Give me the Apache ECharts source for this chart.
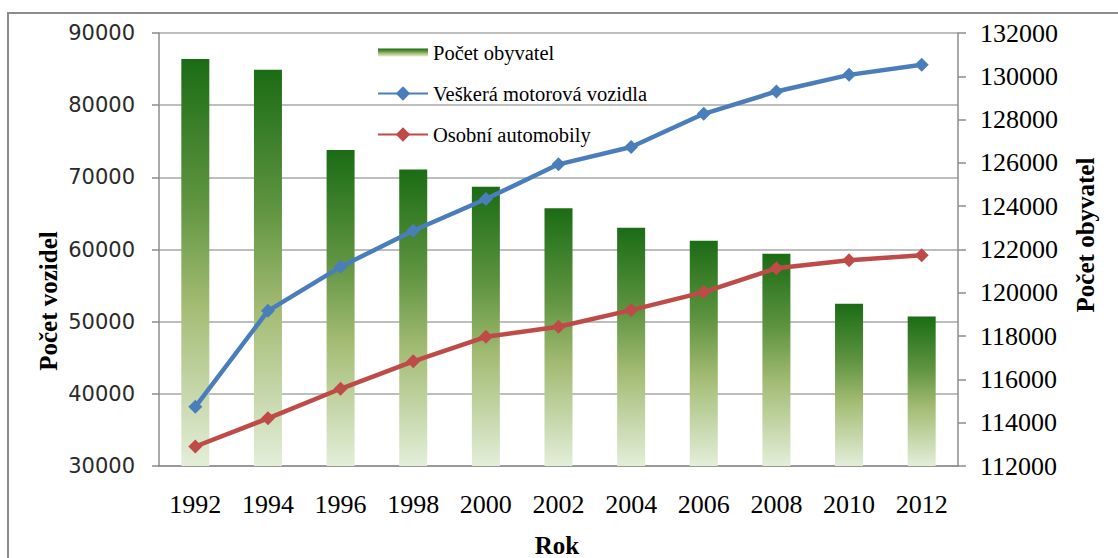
<!DOCTYPE html>
<html>
<head>
<meta charset="utf-8">
<script src="https://cdn.jsdelivr.net/npm/echarts@6/dist/echarts.min.js"></script>
<style>
	html, body { margin: 0; padding: 0; background: #fff; }
	#vozidla-chart { width: 1118px; height: 558px; }
</style>
</head>
<body>
<div id="vozidla-chart"></div>
<script>
	// data
	var years = ['1992', '1994', '1996', '1998', '2000', '2002', '2004', '2006', '2008', '2010', '2012'];
	var obyvatel = [130800, 130300, 126600, 125700, 124900, 123900, 123000, 122400, 121800, 119500, 118900];
	var vozidla = [38200, 51500, 57600, 62600, 67000, 71800, 74200, 78800, 81900, 84200, 85600];
	var automobily = [32700, 36600, 40700, 44500, 47900, 49300, 51600, 54100, 57400, 58500, 59200];
	var leftAxisTicks = [30000, 90000, 10000];   // min, max, step
	var rightAxisTicks = [112000, 132000, 2000];

	var chart = echarts.init(document.getElementById('vozidla-chart'), null, { renderer: 'svg' });
	var serif = '"Liberation Serif", "Times New Roman", serif';
	var gray = '#8c8c8c';
	var plain = function(v) {
		return String(v);
	};

	var option = {
		animation: false,
		backgroundColor: '#fff',
		grid: {
			left: 159,
			right: 160,
			top: 33,
			bottom: 92
		},
		legend: {
			orient: 'vertical',
			left: 372,
			top: 37,
			itemWidth: 50,
			itemHeight: 18,
			itemGap: 20,
			selectedMode: false,
			textStyle: {
				fontFamily: serif,
				fontSize: 20.5,
				color: '#000'
			},
			data: [
				{ name: 'Počet obyvatel', icon: 'path://M0,0h50v8h-50z' },
				'Veškerá motorová vozidla',
				'Osobní automobily'
			]
		},
		xAxis: {
			type: 'category',
			data: years,
			axisTick: { show: false },
			axisLine: { lineStyle: { color: gray, width: 1.5 } },
			axisLabel: {
				fontFamily: serif,
				fontSize: 26,
				color: '#000',
				margin: 25
			}
		},
		yAxis: [{
				type: 'value',
				position: 'left',
				min: leftAxisTicks[0],
				max: leftAxisTicks[1],
				interval: leftAxisTicks[2],
				axisLine: { show: true, lineStyle: { color: gray, width: 1.5 } },
				axisTick: { show: true, length: 7, lineStyle: { color: gray, width: 1.5 } },
				splitLine: { show: true, lineStyle: { color: '#a8a8a8', width: 1.5 } },
				axisLabel: {
					fontFamily: '"DejaVu Sans", Verdana, sans-serif',
					fontSize: 21,
					color: '#2a2a2a',
					margin: 24,
					formatter: plain
				}
			},
			{
				type: 'value',
				position: 'right',
				min: rightAxisTicks[0],
				max: rightAxisTicks[1],
				interval: rightAxisTicks[2],
				axisLine: { show: true, lineStyle: { color: gray, width: 1.5 } },
				axisTick: { show: true, length: 8, lineStyle: { color: gray, width: 1.5 } },
				splitLine: { show: false },
				axisLabel: {
					fontFamily: serif,
					fontSize: 26,
					color: '#000',
					margin: 22,
					formatter: plain
				}
			}
		],
		series: [{
				name: 'Počet obyvatel',
				type: 'bar',
				yAxisIndex: 1,
				barWidth: 28,
				itemStyle: {
					color: new echarts.graphic.LinearGradient(0, 0, 0, 1, [
						{ offset: 0, color: '#1b6c15' },
						{ offset: 0.35, color: '#5f9440' },
						{ offset: 0.6, color: '#a2bb72' },
						{ offset: 1, color: '#e3eed9' }
					])
				},
				data: obyvatel
			},
			{
				name: 'Veškerá motorová vozidla',
				type: 'line',
				yAxisIndex: 0,
				symbol: 'diamond',
				symbolSize: 14,
				lineStyle: { color: '#4a7ebb', width: 4.5 },
				itemStyle: { color: '#4a7ebb' },
				data: vozidla
			},
			{
				name: 'Osobní automobily',
				type: 'line',
				yAxisIndex: 0,
				symbol: 'diamond',
				symbolSize: 14,
				lineStyle: { color: '#be4b48', width: 4.5 },
				itemStyle: { color: '#be4b48' },
				data: automobily
			}
		],
		graphic: [{
				type: 'rect',
				silent: true,
				z: -1,
				shape: { x: 8, y: 13, width: 1200, height: 700 },
				style: { fill: 'none', stroke: gray, lineWidth: 2 }
			},
			{
				type: 'text',
				x: 48,
				y: 301,
				rotation: Math.PI / 2,
				style: {
					text: 'Počet vozidel',
					fontFamily: serif,
					fontWeight: 'bold',
					fontSize: 25,
					fill: '#000',
					align: 'center',
					verticalAlign: 'middle'
				}
			},
			{
				type: 'text',
				x: 1085,
				y: 235,
				rotation: Math.PI / 2,
				style: {
					text: 'Počet obyvatel',
					fontFamily: serif,
					fontWeight: 'bold',
					fontSize: 25,
					fill: '#000',
					align: 'center',
					verticalAlign: 'middle'
				}
			},
			{
				type: 'text',
				x: 557,
				y: 545,
				style: {
					text: 'Rok',
					fontFamily: serif,
					fontWeight: 'bold',
					fontSize: 25,
					fill: '#000',
					align: 'center',
					verticalAlign: 'middle'
				}
			}
		]
	};
	chart.setOption(option);
</script>
</body>
</html>
